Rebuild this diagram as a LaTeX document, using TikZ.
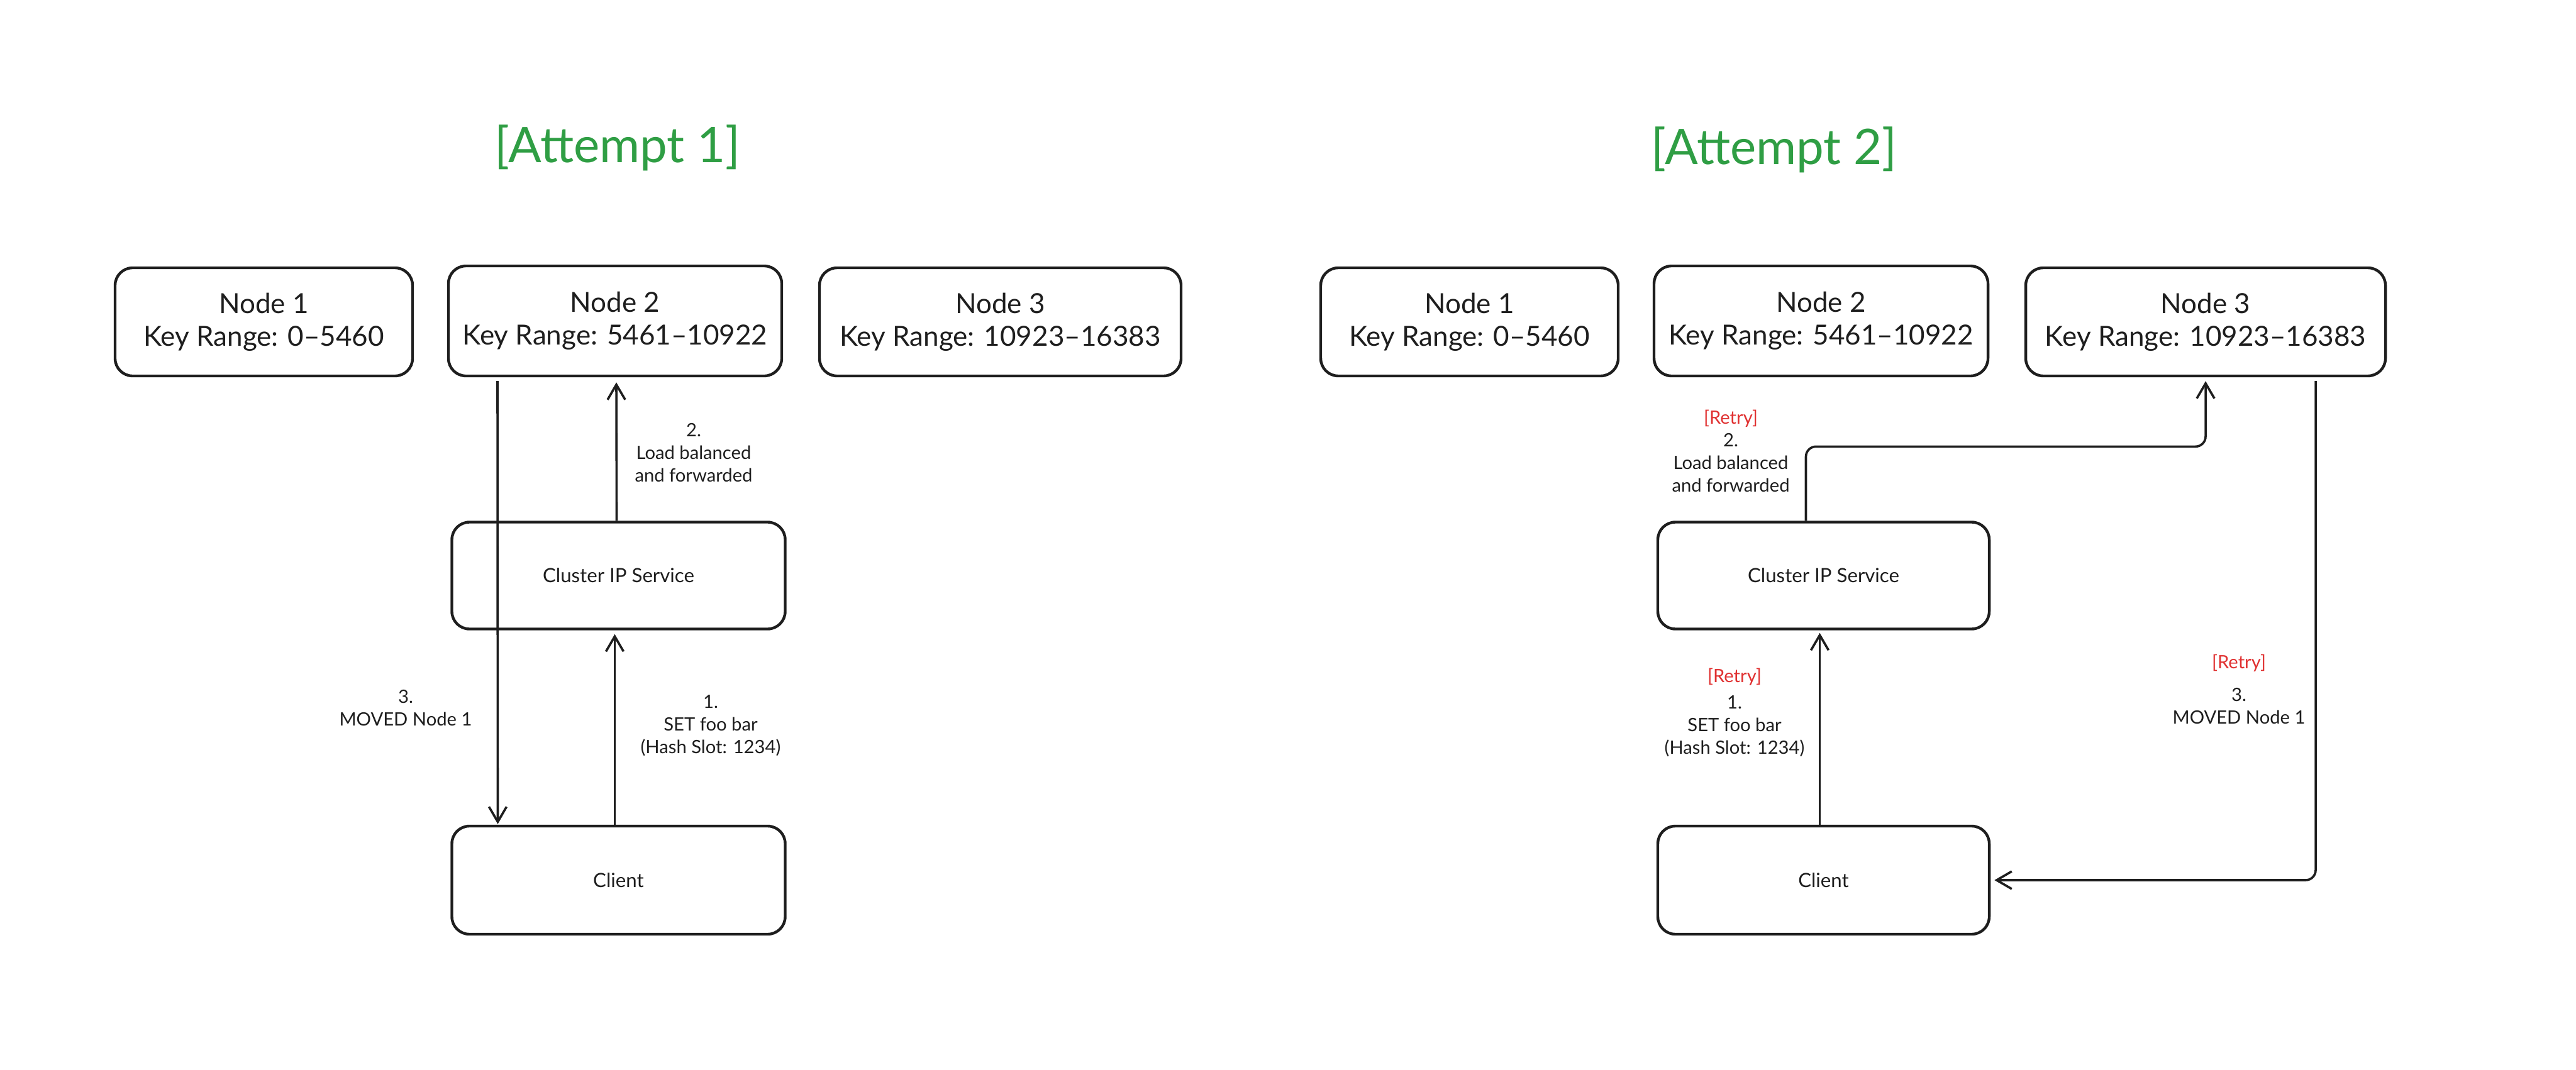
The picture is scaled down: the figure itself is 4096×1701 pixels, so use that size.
\documentclass[tikz,border=0pt]{standalone}
\usepackage{fontspec}
\setmainfont{Lato}
\usetikzlibrary{arrows.meta,calc}
\definecolor{exgreen}{HTML}{2F9E44}
\definecolor{exred}{HTML}{E03131}
\definecolor{ink}{HTML}{1E1E1E}
\tikzset{
  box/.style={draw=ink, line width=1.1pt, rounded corners=7pt, align=center, inner sep=0pt, text=ink},
  keybox/.style={box, font=\fontsize{11}{13}\selectfont, minimum height=43pt},
  flowbox/.style={box, font=\fontsize{7.8}{9}\selectfont, minimum width=132.5pt, minimum height=42.5pt},
  lbl/.style={align=center, font=\fontsize{7.3}{9}\selectfont, text=ink, inner sep=0pt},
  title/.style={font=\fontsize{19.5}{22}\selectfont, text=exgreen, inner sep=0pt},
  arr/.style={draw=ink, line width=0.9pt, -{Straight Barb[length=6pt,width=7pt]}},
}
\begin{document}
\begin{tikzpicture}[x=0.25pt,y=-0.25pt]
\useasboundingbox (0,0) rectangle (4096,1701);

% ---------- Attempt 1 ----------
\node[title] (t1) at (982,235) {[Attempt 1]};
\node[keybox, minimum width=118.25pt] (n1a) at (419.5,512) {Node 1\\Key Range: 0--5460};
\node[keybox, minimum width=132.5pt, minimum height=43.75pt] (n2a) at (978,510.5) {Node 2\\Key Range: 5461--10922};
\node[keybox, minimum width=143.75pt] (n3a) at (1590.5,512) {Node 3\\Key Range: 10923--16383};
\node[flowbox] (cipa) at (983.5,915.5) {Cluster IP Service};
\node[flowbox, minimum height=43pt] (cla) at (983.5,1400) {Client};

\draw[arr] ($(n2a.south)+(-187,6)$) -- ($(cla.north)+(-192,-1)$);
\draw[arr] ($(cipa.north)+(-3,0)$) -- ($(n2a.south)+(2,8)$);
\draw[arr] ($(cla.north)+(-6,0)$) -- ($(cipa.south)+(-6,6)$);

\node[lbl] (l2a) at (1103,720) {2.\\Load balanced\\and forwarded};
\node[lbl] (l3a) at (645,1126) {3.\\MOVED Node 1};
\node[lbl] (l1a) at (1130,1154) {1.\\SET foo bar\\(Hash Slot: 1234)};

% ---------- Attempt 2 ----------
\node[title] (t2) at (2821,238) {[Attempt 2]};
\node[keybox, minimum width=118.25pt] (n1b) at (2336.5,512) {Node 1\\Key Range: 0--5460};
\node[keybox, minimum width=132.75pt, minimum height=43.75pt] (n2b) at (2895.5,510.5) {Node 2\\Key Range: 5461--10922};
\node[keybox, minimum width=143pt] (n3b) at (3507,512) {Node 3\\Key Range: 10923--16383};
\node[flowbox, minimum width=131.75pt] (cipb) at (2899.5,915.5) {Cluster IP Service};
\node[flowbox, minimum width=131.75pt, minimum height=43pt] (clb) at (2899.5,1400) {Client};

\draw[arr, rounded corners=4pt, shorten >=1.5pt] ($(cipb.north)+(-28,0)$) -- ++(0,-118) -| (n3b.south);
\draw[arr, rounded corners=4pt, shorten >=1.5pt] ($(n3b.south)+(175,6)$) |- (clb.east);
\draw[arr] ($(clb.north)+(-6,0)$) -- ($(cipb.south)+(-6,4)$);

\node[lbl] (l2b) at (2752,717) {\textcolor{exred}{[Retry]}\\2.\\Load balanced\\and forwarded};
\node[lbl] (l1b) at (2758,1133) {\textcolor{exred}{[Retry]}\\[1.5pt]1.\\SET foo bar\\(Hash Slot: 1234)};
\node[lbl] (l3b) at (3560,1096) {\textcolor{exred}{[Retry]}\\[4pt]3.\\MOVED Node 1};
\end{tikzpicture}
\end{document}
